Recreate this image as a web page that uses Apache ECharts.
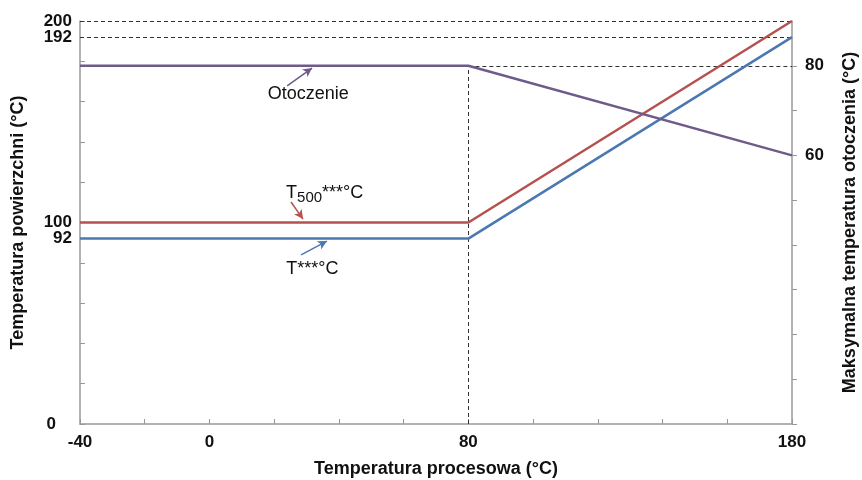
<!DOCTYPE html>
<html><head><meta charset="utf-8">
<script src="https://cdn.jsdelivr.net/npm/echarts@6/dist/echarts.min.js"></script>
<style>html,body{margin:0;padding:0;background:#fff}#c{width:862px;height:480px}</style>
</head><body><div id="c"></div>
<script>
// Data
const xTicks = [-40,-20,0,20,40,60,80,100,120,140,160,180];
const xLabels = [-40,0,80,180];
const leftTicks = [0,20,40,60,80,100,120,140,160,180,200];
const leftLabels = [0,92,100,192];
const leftTopLabel = [200];
const rightTicks = [0,10,20,30,40,50,60,70,80];
const rightLabels = [60,80];
const t500X = [-40,80,180];
const t500Y = [100,100,200];
const tX = [-40,80,180];
const tY = [92,92,192];
const ambX = [-40,80,180];
const ambY = [80,80,60];

const FONT = '"Liberation Sans", Arial, sans-serif';
const RED = '#b5514f', BLUE = '#4b78b3', PURPLE = '#6f5b8a';
const DASH = {type:[4,3], color:'#333', width:1};
const pair = (xs, ys) => xs.map((x,i)=>[x, ys[i]]);
const arrow = (a, b, color) => [
  {coord:a, symbol:'none', lineStyle:{color:color, width:1.5, type:'solid'}},
  {coord:b, symbol:'arrow', symbolSize:[7,9]}
];
const labelStyle = {fontFamily:FONT, fontWeight:'bold', fontSize:17, color:'#111'};

const chart = echarts.init(document.getElementById('c'));
chart.setOption({
  animation:false,
  backgroundColor:'#fff',
  grid:{left:80, right:70, top:21, bottom:56, containLabel:false, outerBoundsMode:'none'},
  xAxis:{
    type:'value', min:-40, max:180,
    name:'Temperatura procesowa (°C)', nameLocation:'middle', nameGap:36, nameMoveOverlap:false,
    nameTextStyle:{fontFamily:FONT, fontWeight:'bold', fontSize:18, color:'#111'},
    axisLine:{onZero:false, lineStyle:{color:'#999', width:1.5}},
    axisTick:{show:true, inside:true, length:5, customValues:xTicks, lineStyle:{color:'#999'}},
    axisLabel:Object.assign({customValues:xLabels, margin:10, hideOverlap:false, showMinLabel:true, showMaxLabel:true}, labelStyle),
    splitLine:{show:false}
  },
  yAxis:[{
    type:'value', min:0, max:200,
    name:'Temperatura powierzchni (°C)', nameLocation:'middle', nameGap:53, nameRotate:90, nameMoveOverlap:false,
    nameTextStyle:{fontFamily:FONT, fontWeight:'bold', fontSize:18, color:'#111'},
    axisLine:{show:true, onZero:false, lineStyle:{color:'#999', width:1.5}},
    axisTick:{show:true, inside:true, length:5, customValues:leftTicks, lineStyle:{color:'#999'}},
    axisLabel:Object.assign({customValues:leftLabels, margin:8, hideOverlap:false,
      formatter:v => v===0 ? '{z|0}' : String(v),
      rich:{z:Object.assign({padding:[0,16,0,0]}, labelStyle)}}, labelStyle),
    splitLine:{show:false}
  },{
    type:'value', min:0, max:90, position:'right',
    name:'Maksymalna temperatura otoczenia (°C)', nameLocation:'middle', nameGap:49, nameRotate:90, nameMoveOverlap:false,
    nameTextStyle:{fontFamily:FONT, fontWeight:'bold', fontSize:18, color:'#111'},
    axisLine:{show:true, onZero:false, lineStyle:{color:'#999', width:1.5}},
    axisTick:{show:true, inside:false, length:5, customValues:rightTicks, lineStyle:{color:'#999'}},
    axisLabel:Object.assign({customValues:rightLabels, margin:13, hideOverlap:false}, labelStyle),
    splitLine:{show:false}
  },{
    type:'value', min:0, max:200, position:'left', offset:0,
    axisLine:{show:false, onZero:false}, axisTick:{show:false},
    axisLabel:Object.assign({customValues:leftTopLabel, margin:8, showMaxLabel:true, hideOverlap:false}, labelStyle),
    splitLine:{show:false}
  }],
  series:[
    {
      type:'line', name:'T500', data:pair(t500X,t500Y), yAxisIndex:0, symbol:'none', z:5,
      lineStyle:{color:RED, width:2.5},
      markLine:{silent:true, symbol:'none', label:{show:false}, lineStyle:DASH, data:[
        [{coord:[-40,200]},{coord:[180,200]}],
        [{coord:[-40,192]},{coord:[180,192]}],
        arrow([25.2,110.2],[28.9,101.7],RED)
      ]},
      markPoint:{silent:true, symbolSize:0, data:[
        {coord:[30.5,163.8], label:{show:true, position:'inside', formatter:'Otoczenie', fontFamily:FONT, fontSize:18, color:'#111'}},
        {coord:[35.6,114.5], label:{show:true, position:'inside', formatter:'{t|T}{s|500}{t|***°C}',
          rich:{t:{fontFamily:FONT, fontSize:18, color:'#111', lineHeight:22},
                s:{fontFamily:FONT, fontSize:15, color:'#111', lineHeight:22, padding:[0,0,-9,0]}}}},
        {coord:[31.8,76.9], label:{show:true, position:'inside', formatter:'T***°C', fontFamily:FONT, fontSize:18, color:'#111'}}
      ]}
    },
    {
      type:'line', name:'T', data:pair(tX,tY), yAxisIndex:0, symbol:'none', z:5,
      lineStyle:{color:BLUE, width:2.5},
      markLine:{silent:true, symbol:'none', label:{show:false}, data:[
        arrow([28.3,83.9],[36.3,90.8],BLUE)
      ]}
    },
    {
      type:'line', name:'Otoczenie', data:pair(ambX,ambY), yAxisIndex:1, symbol:'none', z:5,
      lineStyle:{color:PURPLE, width:2.5},
      markLine:{silent:true, symbol:'none', label:{show:false}, lineStyle:DASH, data:[
        [{coord:[80,0]},{coord:[80,80]}],
        [{coord:[80,80]},{coord:[180,80]}],
        arrow([24.0,75.5],[31.7,79.5],PURPLE)
      ]}
    }
  ]
});
</script></body></html>
